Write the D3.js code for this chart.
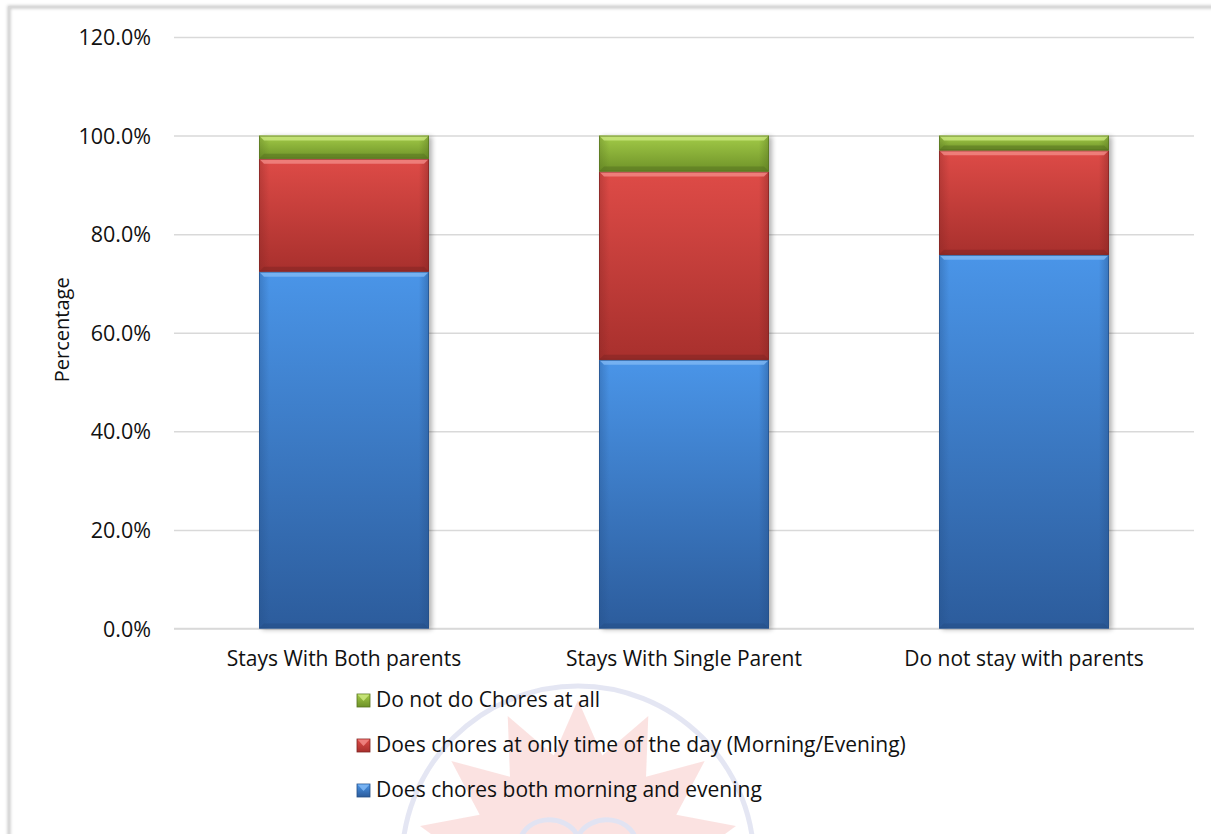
<!DOCTYPE html>
<html>
<head>
<meta charset="utf-8">
<script src="https://cdn.jsdelivr.net/npm/d3@7"></script>
<style>
  html, body { margin: 0; padding: 0; background: #ffffff; }
  svg { display: block; }
  text { font-family: "Open Sans", Lato, sans-serif; fill: #111; }
</style>
</head>
<body>
<svg id="chart" width="1211" height="834"></svg>
<script>
// Household situation of the respondents
const categories = ["Stays With Both parents", "Stays With Single Parent", "Do not stay with parents"];

// Share of respondents in each chore pattern (stacked, bottom to top)
const seriesNames = [
  "Does chores both morning and evening",
  "Does chores at only time of the day (Morning/Evening)",
  "Do not do Chores at all"
];
const bothTimes  = [0.724, 0.545, 0.758];
const oneTime    = [0.229, 0.382, 0.212];
const noChores   = [0.047, 0.073, 0.030];

const yTicks = [0, 0.2, 0.4, 0.6, 0.8, 1.0, 1.2];

const seriesValues = [bothTimes, oneTime, noChores];
const palette = [
  { light: "#4a95e8", mid: "#3c82d6", dark: "#2c5c9c", edge: "#234e86", hi: "#80b8f4" },
  { light: "#de4b47", mid: "#d13f3c", dark: "#a8302d", edge: "#7f2422", hi: "#f28a86" },
  { light: "#a3cb48", mid: "#8db53a", dark: "#6e9228", edge: "#55721f", hi: "#cbe77f" }
];

const FONT = 21;
const svg = d3.select("#chart");
const defs = svg.append("defs");

// Bevelled fills for the bar segments
palette.forEach((c, i) => {
  const g = defs.append("linearGradient").attr("id", "fill" + i)
    .attr("x1", 0).attr("y1", 0).attr("x2", 0).attr("y2", 1);
  g.append("stop").attr("offset", "0%").attr("stop-color", c.light);
  g.append("stop").attr("offset", "100%").attr("stop-color", c.dark);
  const h = defs.append("linearGradient").attr("id", "side" + i)
    .attr("x1", 0).attr("y1", 0).attr("x2", 1).attr("y2", 0);
  h.append("stop").attr("offset", "0%").attr("stop-color", c.edge).attr("stop-opacity", 0.35);
  h.append("stop").attr("offset", "6%").attr("stop-color", c.edge).attr("stop-opacity", 0);
  h.append("stop").attr("offset", "94%").attr("stop-color", c.edge).attr("stop-opacity", 0);
  h.append("stop").attr("offset", "100%").attr("stop-color", c.edge).attr("stop-opacity", 0.45);
});
const shadow = defs.append("filter").attr("id", "shadow")
  .attr("x", "-10%").attr("y", "-5%").attr("width", "130%").attr("height", "115%");
shadow.append("feGaussianBlur").attr("in", "SourceAlpha").attr("stdDeviation", 2.5);
shadow.append("feOffset").attr("dx", 3).attr("dy", 1).attr("result", "b");
shadow.append("feComponentTransfer").append("feFuncA").attr("type", "linear").attr("slope", 0.3);
const merge = shadow.append("feMerge");
merge.append("feMergeNode");
merge.append("feMergeNode").attr("in", "SourceGraphic");

const frameShadow = defs.append("filter").attr("id", "frameShadow")
  .attr("x", "-2%").attr("y", "-2%").attr("width", "104%").attr("height", "104%");
frameShadow.append("feGaussianBlur").attr("stdDeviation", 1.5);

// Faint emblem in the background
const wm = svg.append("g").attr("opacity", 0.55);
const wmCx = 578, wmCy = 862, wmR = 176;
const rays = 14;
const starPts = d3.range(rays * 2).map(k => {
  const a = -Math.PI / 2 + k * Math.PI / rays;
  const r = k % 2 === 0 ? wmR - 14 : wmR * 0.62;
  return [wmCx + r * Math.cos(a), wmCy + r * Math.sin(a)];
});
wm.append("path").attr("d", d3.line()(starPts) + "Z")
  .attr("fill", "#f6b9b7").attr("opacity", 0.75);
wm.append("circle").attr("cx", wmCx).attr("cy", wmCy).attr("r", wmR)
  .attr("fill", "none").attr("stroke", "#cfd2ea").attr("stroke-width", 5);
wm.append("path")
  .attr("d", `M${wmCx - 60},${wmCy - 10} C${wmCx - 60},${wmCy - 50} ${wmCx - 10},${wmCy - 50} ${wmCx},${wmCy - 25} C${wmCx + 10},${wmCy - 50} ${wmCx + 60},${wmCy - 50} ${wmCx + 60},${wmCy - 10}`)
  .attr("fill", "none").attr("stroke", "#c9cde8").attr("stroke-width", 5);

// Chart frame (top and left edges visible)
svg.append("path")
  .attr("d", "M9,840 L9,7 L1220,7")
  .attr("fill", "none").attr("stroke", "#c8c8c8").attr("stroke-width", 3)
  .attr("filter", "url(#frameShadow)");
svg.append("path")
  .attr("d", "M9,840 L9,7 L1220,7")
  .attr("fill", "none").attr("stroke", "#d9d9d9").attr("stroke-width", 1.5);

const plot = { left: 174, right: 1194, top: 37, bottom: 628.5 };

const x = d3.scaleBand().domain(categories)
  .range([plot.left, plot.right]).paddingInner(0.5).paddingOuter(0.25);
const y = d3.scaleLinear().domain([0, 1.2]).range([plot.bottom, plot.top]);

// Gridlines and y tick labels
const yAxis = d3.axisLeft(y).tickValues(yTicks)
  .tickSize(-(plot.right - plot.left))
  .tickPadding(23)
  .tickFormat(d => (d * 100).toFixed(1) + "%");
const gy = svg.append("g").attr("transform", `translate(${plot.left},0)`).call(yAxis);
gy.select(".domain").remove();
gy.selectAll(".tick line").attr("stroke", "#d9d9d9").attr("stroke-width", 1.5);
gy.selectAll(".tick text")
  .attr("font-size", 21.5).attr("font-family", "'Open Sans', sans-serif").attr("fill", "#111")
  .attr("dy", "0.35em");

// Category labels
const xAxis = d3.axisBottom(x).tickSize(0).tickPadding(23);
const gx = svg.append("g").attr("transform", `translate(0,${plot.bottom})`).call(xAxis);
gx.select(".domain").attr("stroke", "#d9d9d9").attr("stroke-width", 1.5)
  .attr("d", `M${plot.left},0H${plot.right}`);
gx.selectAll(".tick text")
  .attr("font-size", FONT).attr("font-family", "'Open Sans', sans-serif").attr("fill", "#111");

// Axis title
svg.append("text")
  .attr("transform", `translate(69,${(plot.top + plot.bottom) / 2 - 3}) rotate(-90)`)
  .attr("text-anchor", "middle").attr("font-size", 20).text("Percentage");

// Stacked bars
const rows = categories.map((c, i) => {
  const o = { category: c };
  seriesNames.forEach((s, k) => { o[s] = seriesValues[k][i]; });
  return o;
});
const stacked = d3.stack().keys(seriesNames)(rows);

const barGroup = svg.append("g");
categories.forEach((c, i) => {
  barGroup.append("rect")
    .attr("x", x(c)).attr("width", x.bandwidth())
    .attr("y", y(stacked[stacked.length - 1][i][1]))
    .attr("height", y(0) - y(stacked[stacked.length - 1][i][1]))
    .attr("fill", "#fff").attr("filter", "url(#shadow)");
});

stacked.forEach((layer, k) => {
  const c = palette[k];
  const g = barGroup.append("g");
  layer.forEach((d, i) => {
    const bx = x(categories[i]), bw = x.bandwidth();
    const y0 = y(d[1]), h = y(d[0]) - y(d[1]);
    g.append("rect").attr("x", bx).attr("y", y0).attr("width", bw).attr("height", h)
      .attr("fill", `url(#fill${k})`);
    g.append("rect").attr("x", bx).attr("y", y0).attr("width", bw).attr("height", h)
      .attr("fill", `url(#side${k})`);
    // top highlight bevel
    const bev = Math.min(5, h / 3);
    g.append("path")
      .attr("d", `M${bx},${y0} L${bx + bw},${y0} L${bx + bw - bev},${y0 + bev} L${bx + bev},${y0 + bev} Z`)
      .attr("fill", c.hi).attr("opacity", 0.8);
    // bottom darker bevel
    g.append("path")
      .attr("d", `M${bx},${y0 + h} L${bx + bw},${y0 + h} L${bx + bw - bev},${y0 + h - bev} L${bx + bev},${y0 + h - bev} Z`)
      .attr("fill", c.edge).attr("opacity", 0.5);
    g.append("rect").attr("x", bx + 0.5).attr("y", y0 + 0.5).attr("width", bw - 1).attr("height", h - 1)
      .attr("fill", "none").attr("stroke", c.edge).attr("stroke-width", 1).attr("opacity", 0.7);
  });
});

// Legend (top entry is the top of the stack)
const legendItems = seriesNames.map((s, k) => ({ name: s, k })).reverse();
const legend = svg.append("g").attr("transform", "translate(357,707)");
legendItems.forEach((item, j) => {
  const c = palette[item.k];
  const row = legend.append("g").attr("transform", `translate(0,${j * 45})`);
  row.append("rect").attr("x", 0).attr("y", -13).attr("width", 13).attr("height", 13)
    .attr("fill", `url(#fill${item.k})`).attr("stroke", c.edge).attr("stroke-width", 0.8);
  row.append("path").attr("d", "M0.5,-12.5 L12.5,-12.5 L6.5,-6 Z").attr("fill", c.hi).attr("opacity", 0.85);
  row.append("text").attr("x", 19).attr("y", 0)
    .attr("font-size", FONT).text(item.name);
});
</script>
</body>
</html>
